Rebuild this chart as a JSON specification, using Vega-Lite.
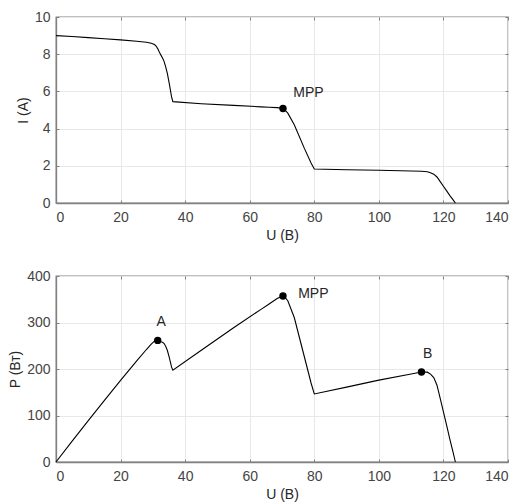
{
  "$schema": "https://vega.github.io/schema/vega-lite/v6.json",
  "padding": {"left": 7, "top": 9, "right": 12, "bottom": 5},
  "spacing": 25,
  "datasets": {
    "curve": [
      {"U": 0, "I": 9.0, "P": 0},
      {"U": 5, "I": 8.95, "P": 44.75},
      {"U": 10, "I": 8.89, "P": 88.9},
      {"U": 15, "I": 8.83, "P": 132.45},
      {"U": 20, "I": 8.77, "P": 175.4},
      {"U": 25, "I": 8.7, "P": 217.5},
      {"U": 28, "I": 8.64, "P": 241.9},
      {"U": 29.5, "I": 8.59, "P": 253.4},
      {"U": 30.5, "I": 8.52, "P": 259.9},
      {"U": 31, "I": 8.44, "P": 261.6},
      {"U": 31.5, "I": 8.3, "P": 261.5},
      {"U": 32, "I": 8.12, "P": 259.8},
      {"U": 32.5, "I": 7.95, "P": 258.4},
      {"U": 33, "I": 7.8, "P": 257.4},
      {"U": 33.5, "I": 7.6, "P": 254.6},
      {"U": 34, "I": 7.3, "P": 248.2},
      {"U": 34.5, "I": 6.95, "P": 239.8},
      {"U": 35.1, "I": 6.4, "P": 224.6},
      {"U": 35.8, "I": 5.7, "P": 204.1},
      {"U": 36.2, "I": 5.45, "P": 197.3},
      {"U": 45, "I": 5.34, "P": 240.3},
      {"U": 55, "I": 5.25, "P": 288.8},
      {"U": 63.5, "I": 5.17, "P": 328.3},
      {"U": 66, "I": 5.15, "P": 339.9},
      {"U": 68.5, "I": 5.13, "P": 351.4},
      {"U": 70.3, "I": 5.08, "P": 357.1},
      {"U": 71, "I": 4.98, "P": 353.6},
      {"U": 71.8, "I": 4.83, "P": 346.8},
      {"U": 73.8, "I": 4.21, "P": 310.7},
      {"U": 76.9, "I": 2.95, "P": 226.9},
      {"U": 79, "I": 2.15, "P": 169.9},
      {"U": 80, "I": 1.83, "P": 146.4},
      {"U": 90, "I": 1.79, "P": 161.1},
      {"U": 100, "I": 1.76, "P": 176},
      {"U": 110, "I": 1.72, "P": 189.2},
      {"U": 113.2, "I": 1.71, "P": 193.6},
      {"U": 115, "I": 1.68, "P": 193.2},
      {"U": 116, "I": 1.63, "P": 189.1},
      {"U": 117, "I": 1.55, "P": 181.4},
      {"U": 118, "I": 1.4, "P": 165.2},
      {"U": 119, "I": 1.15, "P": 136.9},
      {"U": 120, "I": 0.9, "P": 108},
      {"U": 121, "I": 0.65, "P": 78.7},
      {"U": 122, "I": 0.4, "P": 48.8},
      {"U": 123, "I": 0.17, "P": 20.9},
      {"U": 123.7, "I": 0, "P": 0}
    ],
    "ivpts": [{"U": 70.3, "I": 5.08}],
    "ivlabels": [{"U": 78.2, "I": 5.9, "label": "MPP"}],
    "pvpts": [{"U": 31.5, "P": 261.5}, {"U": 70.3, "P": 357.1}, {"U": 113.2, "P": 193.6}],
    "pvlabels": [
      {"U": 32.6, "P": 301, "label": "A"},
      {"U": 79.7, "P": 362, "label": "MPP"},
      {"U": 115.1, "P": 232, "label": "B"}
    ]
  },
  "config": {
    "font": "Liberation Sans",
    "view": {"stroke": "#808080", "strokeWidth": 1.3},
    "axis": {
      "labelFont": "Liberation Sans",
      "titleFont": "Liberation Sans",
      "labelFontSize": 14,
      "titleFontSize": 14,
      "titleFontWeight": "normal",
      "labelColor": "#444444",
      "titleColor": "#262626",
      "gridColor": "#e8e8e8",
      "domainColor": "#808080",
      "domainWidth": 1.3,
      "tickColor": "#808080",
      "tickSize": -3,
      "labelPadding": 9,
      "titlePadding": 4
    },
    "text": {"font": "Liberation Sans", "fontSize": 14, "color": "#262626"}
  },
  "vconcat": [
    {
      "width": 452,
      "height": 186,
      "layer": [
        {
          "data": {"name": "curve"},
          "mark": {"type": "line", "color": "#000000", "strokeWidth": 1.1},
          "encoding": {
            "x": {"field": "U", "type": "quantitative", "scale": {"domain": [0, 140], "nice": false},
                  "axis": {"values": [0, 20, 40, 60, 80, 100, 120, 140], "title": "U (B)", "labelPadding": 10}},
            "y": {"field": "I", "type": "quantitative", "scale": {"domain": [0, 10], "nice": false},
                  "axis": {"values": [0, 2, 4, 6, 8, 10], "title": "I (A)"}}
          }
        },
        {
          "data": {"name": "ivpts"},
          "mark": {"type": "point", "filled": true, "color": "#000000", "size": 55, "opacity": 1},
          "encoding": {
            "x": {"field": "U", "type": "quantitative",
                  "axis": {"orient": "top", "labels": false, "title": null, "grid": false, "domain": false, "values": [0, 20, 40, 60, 80, 100, 120, 140]}},
            "y": {"field": "I", "type": "quantitative",
                  "axis": {"orient": "right", "labels": false, "title": null, "grid": false, "domain": false, "values": [0, 2, 4, 6, 8, 10]}}
          }
        },
        {
          "data": {"name": "ivlabels"},
          "mark": {"type": "text", "align": "center", "baseline": "middle"},
          "encoding": {
            "x": {"field": "U", "type": "quantitative", "axis": null},
            "y": {"field": "I", "type": "quantitative", "axis": null},
            "text": {"field": "label"}
          }
        }
      ],
      "resolve": {"axis": {"x": "independent", "y": "independent"}}
    },
    {
      "width": 452,
      "height": 186,
      "layer": [
        {
          "data": {"name": "curve"},
          "mark": {"type": "line", "color": "#000000", "strokeWidth": 1.1},
          "encoding": {
            "x": {"field": "U", "type": "quantitative", "scale": {"domain": [0, 140], "nice": false},
                  "axis": {"values": [0, 20, 40, 60, 80, 100, 120, 140], "title": "U (B)", "labelPadding": 10}},
            "y": {"field": "P", "type": "quantitative", "scale": {"domain": [0, 400], "nice": false},
                  "axis": {"values": [0, 100, 200, 300, 400], "title": "P (Вт)"}}
          }
        },
        {
          "data": {"name": "pvpts"},
          "mark": {"type": "point", "filled": true, "color": "#000000", "size": 55, "opacity": 1},
          "encoding": {
            "x": {"field": "U", "type": "quantitative",
                  "axis": {"orient": "top", "labels": false, "title": null, "grid": false, "domain": false, "values": [0, 20, 40, 60, 80, 100, 120, 140]}},
            "y": {"field": "P", "type": "quantitative",
                  "axis": {"orient": "right", "labels": false, "title": null, "grid": false, "domain": false, "values": [0, 100, 200, 300, 400]}}
          }
        },
        {
          "data": {"name": "pvlabels"},
          "mark": {"type": "text", "align": "center", "baseline": "middle"},
          "encoding": {
            "x": {"field": "U", "type": "quantitative", "axis": null},
            "y": {"field": "P", "type": "quantitative", "axis": null},
            "text": {"field": "label"}
          }
        }
      ],
      "resolve": {"axis": {"x": "independent", "y": "independent"}}
    }
  ]
}
